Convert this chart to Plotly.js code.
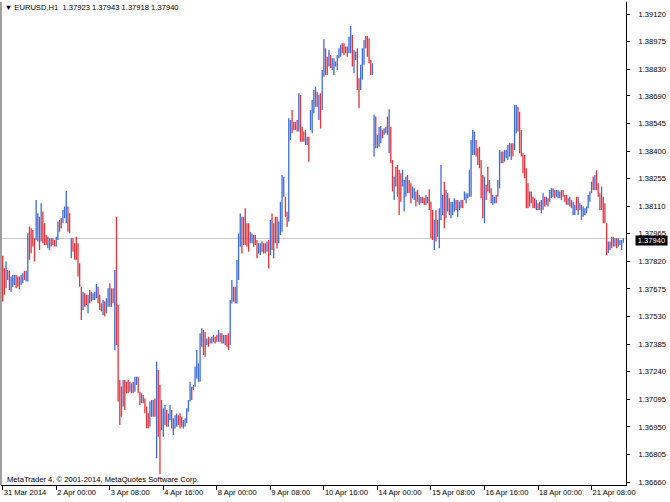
<!DOCTYPE html>
<html>
<head>
<meta charset="utf-8">
<script src="https://cdn.plot.ly/plotly-3.0.1.min.js"></script>
<style>
html,body{margin:0;padding:0;background:#fff;}
#chart{width:670px;height:502px;}
</style>
</head>
<body>
<div id="chart"></div>
<script>
// EURUSD H1 bars, first bar 31 Mar 2014, last bar 22 Apr 2014
const open = [
1.37830,1.37770,1.37690,1.37770,1.37760,1.37670,1.37700,1.37720,1.37740,1.37730,
1.37720,1.37700,1.37710,1.37765,1.37720,1.37730,1.37980,1.37900,1.37970,1.37930,
1.37940,1.37950,1.38040,1.37940,1.38070,1.38000,1.37950,1.37900,1.37890,1.37935,
1.37930,1.37925,1.37905,1.37940,1.38030,1.38040,1.38025,1.38050,1.38030,1.38100,
1.38060,1.37850,1.37935,1.37900,1.37940,1.37900,1.37800,1.37680,1.37575,1.37645,
1.37635,1.37560,1.37660,1.37655,1.37620,1.37625,1.37635,1.37680,1.37635,1.37595,
1.37545,1.37600,1.37550,1.37590,1.37690,1.37595,1.37670,1.37600,1.37760,1.37400,
1.37110,1.37150,1.37070,1.37180,1.37180,1.37190,1.37140,1.37135,1.37175,1.37140,
1.37175,1.37205,1.37130,1.37120,1.37080,1.37095,1.37050,1.37015,1.36960,1.37020,
1.37030,1.37090,1.37010,1.37240,1.37150,1.36950,1.36910,1.36970,1.37030,1.36960,
1.36995,1.37030,1.36915,1.36950,1.36960,1.37005,1.37010,1.36995,1.36950,1.36955,
1.36980,1.37040,1.37090,1.37155,1.37148,1.37165,1.37215,1.37200,1.37270,1.37380,
1.37450,1.37440,1.37385,1.37420,1.37390,1.37395,1.37400,1.37420,1.37425,1.37405,
1.37438,1.37395,1.37428,1.37390,1.37425,1.37430,1.37390,1.37610,1.37680,1.37675,
1.37610,1.37800,1.37940,1.38050,1.37910,1.38040,1.38010,1.38000,1.37920,1.37925,
1.37955,1.37950,1.37925,1.37865,1.37860,1.37915,1.37905,1.37900,1.37875,1.37925,
1.37860,1.38060,1.37850,1.38045,1.38040,1.37920,1.37970,1.38110,1.38170,1.38150,
1.38075,1.38035,1.38470,1.38605,1.38550,1.38515,1.38555,1.38510,1.38685,1.38520,
1.38495,1.38440,1.38440,1.38470,1.38515,1.38500,1.38610,1.38640,1.38705,1.38570,
1.38695,1.38630,1.38800,1.38930,1.38890,1.38850,1.38900,1.38830,1.38810,1.38865,
1.38835,1.38892,1.38900,1.38960,1.38955,1.38918,1.38940,1.38920,1.38990,1.39000,
1.38820,1.38885,1.38930,1.38770,1.38730,1.38790,1.38870,1.38998,1.38995,1.38985,
1.38870,1.38810,1.38380,1.38570,1.38420,1.38430,1.38450,1.38505,1.38488,1.38496,
1.38570,1.38490,1.38520,1.38345,1.38160,1.38300,1.38315,1.38290,1.38275,1.38220,
1.38095,1.38170,1.38265,1.38240,1.38225,1.38155,1.38148,1.38180,1.38190,1.38120,
1.38128,1.38155,1.38148,1.38120,1.38155,1.38190,1.38125,1.38080,1.37890,1.38080,
1.37955,1.37900,1.38090,1.38070,1.38230,1.38050,1.38170,1.38145,1.38055,1.38070,
1.38090,1.38138,1.38060,1.38095,1.38102,1.38138,1.38146,1.38130,1.38155,1.38165,
1.38280,1.38390,1.38390,1.38450,1.38405,1.38365,1.38345,1.38265,1.38030,1.38215,
1.38310,1.38185,1.38198,1.38120,1.38128,1.38162,1.38165,1.38240,1.38340,1.38392,
1.38348,1.38365,1.38360,1.38435,1.38360,1.38435,1.38410,1.38500,1.38625,1.38600,
1.38505,1.38380,1.38370,1.38300,1.38222,1.38112,1.38180,1.38155,1.38148,1.38095,
1.38122,1.38130,1.38078,1.38095,1.38155,1.38120,1.38148,1.38138,1.38155,1.38162,
1.38190,1.38162,1.38155,1.38183,1.38146,1.38190,1.38165,1.38162,1.38120,1.38155,
1.38138,1.38068,1.38068,1.38155,1.38070,1.38120,1.38042,1.38060,1.38080,1.38076,
1.38102,1.38138,1.38182,1.38260,1.38200,1.38290,1.38222,1.38170,1.38095,1.38155,
1.38118,1.38015,1.37866,1.37920,1.37892,1.37945,1.37902,1.37936,1.37900,1.37910,
1.37885,1.37923];
const high = [
1.37849,1.37784,1.37819,1.37775,1.37771,1.37740,1.37749,1.37749,1.37749,1.37740,
1.37740,1.37749,1.37757,1.37771,1.37771,1.37968,1.38003,1.37994,1.37985,1.37941,
1.38143,1.38073,1.38055,1.38125,1.38082,1.38020,1.37959,1.37950,1.37941,1.37941,
1.37941,1.37933,1.37950,1.38029,1.38038,1.38047,1.38090,1.38108,1.38190,1.38108,
1.38073,1.37941,1.37941,1.37915,1.37950,1.37915,1.37810,1.37687,1.37661,1.37652,
1.37644,1.37644,1.37670,1.37661,1.37652,1.37661,1.37701,1.37687,1.37644,1.37600,
1.37617,1.37609,1.37626,1.37679,1.37705,1.37679,1.37679,1.37775,1.38055,1.37591,
1.37197,1.37162,1.37197,1.37197,1.37188,1.37197,1.37188,1.37179,1.37188,1.37214,
1.37214,1.37214,1.37135,1.37127,1.37118,1.37100,1.37057,1.37022,1.37083,1.37092,
1.37092,1.37100,1.37293,1.37249,1.37170,1.37091,1.37048,1.37065,1.37039,1.37021,
1.37065,1.37039,1.36995,1.37012,1.37021,1.37012,1.37021,1.37004,1.36986,1.36995,
1.37048,1.37091,1.37188,1.37161,1.37170,1.37267,1.37354,1.37284,1.37442,1.37468,
1.37459,1.37450,1.37415,1.37424,1.37415,1.37424,1.37433,1.37424,1.37433,1.37459,
1.37442,1.37442,1.37433,1.37433,1.37433,1.37442,1.37617,1.37722,1.37687,1.37687,
1.37827,1.37967,1.38072,1.38055,1.38055,1.38099,1.38020,1.38020,1.37976,1.37967,
1.37959,1.37959,1.37932,1.37915,1.37915,1.37924,1.37915,1.37915,1.37924,1.37932,
1.38037,1.38072,1.38020,1.38055,1.38055,1.38029,1.38134,1.38274,1.38265,1.38160,
1.38081,1.38572,1.38563,1.38616,1.38554,1.38554,1.38563,1.38703,1.38694,1.38528,
1.38502,1.38510,1.38475,1.38475,1.38616,1.38668,1.38721,1.38738,1.38712,1.38694,
1.38703,1.38826,1.38987,1.38940,1.38896,1.38931,1.38905,1.38888,1.38888,1.38870,
1.38905,1.38940,1.38958,1.38966,1.38966,1.38949,1.38949,1.39001,1.39057,1.39010,
1.38931,1.38923,1.38940,1.38782,1.38853,1.38940,1.38984,1.39005,1.39005,1.38993,
1.38879,1.38861,1.38590,1.38581,1.38485,1.38528,1.38532,1.38511,1.38520,1.38528,
1.38581,1.38620,1.38528,1.38353,1.38266,1.38318,1.38327,1.38301,1.38283,1.38301,
1.38248,1.38266,1.38274,1.38248,1.38231,1.38213,1.38204,1.38187,1.38196,1.38169,
1.38160,1.38160,1.38152,1.38169,1.38160,1.38199,1.38134,1.38090,1.38038,1.38090,
1.38038,1.38099,1.38327,1.38169,1.38239,1.38196,1.38178,1.38152,1.38134,1.38134,
1.38152,1.38143,1.38143,1.38134,1.38143,1.38143,1.38187,1.38178,1.38178,1.38301,
1.38458,1.38511,1.38502,1.38458,1.38414,1.38423,1.38353,1.38274,1.38266,1.38222,
1.38318,1.38248,1.38204,1.38169,1.38160,1.38169,1.38248,1.38406,1.38397,1.38397,
1.38406,1.38406,1.38432,1.38441,1.38441,1.38441,1.38642,1.38642,1.38633,1.38607,
1.38511,1.38388,1.38379,1.38309,1.38230,1.38187,1.38187,1.38160,1.38152,1.38143,
1.38125,1.38134,1.38143,1.38178,1.38160,1.38160,1.38152,1.38195,1.38204,1.38204,
1.38195,1.38195,1.38195,1.38187,1.38195,1.38195,1.38169,1.38169,1.38152,1.38160,
1.38143,1.38134,1.38117,1.38160,1.38160,1.38125,1.38117,1.38108,1.38099,1.38108,
1.38169,1.38187,1.38239,1.38266,1.38274,1.38297,1.38230,1.38178,1.38213,1.38160,
1.38125,1.38020,1.37924,1.37924,1.37950,1.37950,1.37941,1.37941,1.37941,1.37933,
1.37933,1.37943];
const low = [
1.37609,1.37644,1.37679,1.37722,1.37670,1.37661,1.37687,1.37696,1.37679,1.37687,
1.37673,1.37696,1.37705,1.37722,1.37714,1.37714,1.37828,1.37863,1.37898,1.37819,
1.37933,1.37924,1.37880,1.37924,1.37915,1.37906,1.37906,1.37889,1.37880,1.37898,
1.37906,1.37898,1.37898,1.37933,1.37976,1.37994,1.38020,1.38047,1.38020,1.37976,
1.37968,1.37836,1.37871,1.37828,1.37828,1.37740,1.37687,1.37512,1.37565,1.37582,
1.37591,1.37547,1.37600,1.37609,1.37617,1.37617,1.37626,1.37600,1.37565,1.37556,
1.37538,1.37530,1.37547,1.37582,1.37582,1.37582,1.37600,1.37354,1.37381,1.37083,
1.36960,1.37004,1.37057,1.37039,1.37127,1.37127,1.37135,1.37127,1.37127,1.37135,
1.37170,1.37127,1.37065,1.37074,1.37074,1.37022,1.36943,1.36943,1.36952,1.37004,
1.37004,1.37004,1.36785,1.36899,1.36703,1.36934,1.36899,1.36960,1.36951,1.36951,
1.36986,1.36942,1.36907,1.36942,1.36951,1.36960,1.36942,1.36951,1.36942,1.36951,
1.36969,1.37030,1.37083,1.37091,1.37144,1.37161,1.37205,1.37188,1.37188,1.37372,
1.37328,1.37319,1.37380,1.37372,1.37389,1.37389,1.37398,1.37389,1.37398,1.37398,
1.37398,1.37389,1.37389,1.37380,1.37372,1.37354,1.37380,1.37599,1.37608,1.37599,
1.37599,1.37722,1.37897,1.37862,1.37906,1.37906,1.37897,1.37871,1.37915,1.37915,
1.37897,1.37906,1.37836,1.37862,1.37853,1.37871,1.37862,1.37862,1.37871,1.37783,
1.37853,1.37880,1.37836,1.37915,1.37888,1.37915,1.37959,1.37976,1.38160,1.38055,
1.38002,1.38029,1.38458,1.38493,1.38510,1.38510,1.38502,1.38502,1.38449,1.38449,
1.38449,1.38432,1.38432,1.38344,1.38510,1.38493,1.38598,1.38633,1.38633,1.38563,
1.38519,1.38616,1.38791,1.38800,1.38800,1.38844,1.38835,1.38826,1.38800,1.38844,
1.38826,1.38888,1.38896,1.38914,1.38905,1.38914,1.38896,1.38914,1.38914,1.38844,
1.38809,1.38879,1.38721,1.38625,1.38721,1.38774,1.38853,1.38940,1.38896,1.38861,
1.38800,1.38800,1.38371,1.38415,1.38415,1.38423,1.38441,1.38467,1.38485,1.38493,
1.38485,1.38388,1.38336,1.38187,1.38143,1.38213,1.38160,1.38064,1.38134,1.38213,
1.38082,1.38160,1.38178,1.38178,1.38125,1.38152,1.38143,1.38108,1.38134,1.38117,
1.38125,1.38125,1.38117,1.38117,1.38125,1.38090,1.37941,1.37933,1.37880,1.37924,
1.37950,1.37889,1.38038,1.38064,1.37994,1.38047,1.38082,1.38064,1.38047,1.38064,
1.38082,1.38090,1.38055,1.38090,1.38099,1.38099,1.38143,1.38125,1.38152,1.38160,
1.38160,1.38379,1.38379,1.38371,1.38327,1.38309,1.38152,1.38047,1.38020,1.38143,
1.38187,1.38178,1.38125,1.38117,1.38125,1.38125,1.38160,1.38204,1.38336,1.38336,
1.38344,1.38362,1.38353,1.38371,1.38353,1.38371,1.38406,1.38493,1.38502,1.38388,
1.38371,1.38283,1.38257,1.38099,1.38099,1.38108,1.38125,1.38099,1.38099,1.38090,
1.38090,1.38090,1.38073,1.38090,1.38108,1.38117,1.38108,1.38134,1.38152,1.38160,
1.38152,1.38160,1.38152,1.38152,1.38143,1.38160,1.38134,1.38117,1.38117,1.38108,
1.38099,1.38064,1.38064,1.38090,1.38064,1.38090,1.38038,1.38055,1.38064,1.38073,
1.38099,1.38134,1.38178,1.38195,1.38195,1.38195,1.38160,1.38090,1.38090,1.38020,
1.38020,1.37854,1.37863,1.37880,1.37889,1.37898,1.37898,1.37889,1.37898,1.37906,
1.37880,1.37918];
const close = [
1.37640,1.37660,1.37800,1.37730,1.37680,1.37730,1.37740,1.37725,1.37690,1.37700,
1.37680,1.37740,1.37750,1.37730,1.37765,1.37950,1.37850,1.37880,1.37910,1.37830,
1.38100,1.38060,1.37900,1.38110,1.37930,1.37920,1.37915,1.37940,1.37930,1.37905,
1.37910,1.37905,1.37945,1.38020,1.37985,1.38000,1.38085,1.38100,1.38150,1.37990,
1.37975,1.37930,1.37880,1.37840,1.37835,1.37750,1.37700,1.37530,1.37650,1.37590,
1.37600,1.37635,1.37610,1.37615,1.37648,1.37655,1.37690,1.37610,1.37575,1.37560,
1.37610,1.37540,1.37620,1.37670,1.37590,1.37670,1.37610,1.37760,1.37400,1.37100,
1.36990,1.37020,1.37180,1.37060,1.37135,1.37140,1.37180,1.37170,1.37135,1.37205,
1.37210,1.37135,1.37075,1.37080,1.37110,1.37030,1.36955,1.36950,1.37075,1.37085,
1.37088,1.37015,1.37270,1.36920,1.37010,1.37070,1.37030,1.37055,1.36960,1.37015,
1.37055,1.36950,1.36985,1.37005,1.37015,1.36965,1.36950,1.36960,1.36980,1.36990,
1.37040,1.37085,1.37180,1.37100,1.37166,1.37255,1.37340,1.37275,1.37430,1.37460,
1.37340,1.37400,1.37410,1.37380,1.37410,1.37420,1.37428,1.37395,1.37402,1.37450,
1.37405,1.37435,1.37395,1.37425,1.37380,1.37365,1.37600,1.37710,1.37615,1.37610,
1.37815,1.37950,1.38060,1.37880,1.38040,1.37920,1.37905,1.37885,1.37970,1.37960,
1.37905,1.37910,1.37850,1.37910,1.37905,1.37875,1.37870,1.37868,1.37915,1.37800,
1.38020,1.37890,1.38010,1.37925,1.37900,1.38020,1.38120,1.38260,1.38250,1.38070,
1.38010,1.38550,1.38555,1.38505,1.38515,1.38550,1.38505,1.38690,1.38460,1.38455,
1.38455,1.38505,1.38470,1.38350,1.38605,1.38660,1.38710,1.38730,1.38640,1.38685,
1.38530,1.38810,1.38970,1.38810,1.38810,1.38920,1.38845,1.38880,1.38880,1.38848,
1.38895,1.38935,1.38950,1.38920,1.38910,1.38945,1.38900,1.38990,1.39040,1.38860,
1.38920,1.38918,1.38740,1.38640,1.38840,1.38930,1.38975,1.38950,1.38905,1.38870,
1.38810,1.38855,1.38570,1.38430,1.38475,1.38520,1.38525,1.38472,1.38515,1.38524,
1.38495,1.38600,1.38350,1.38200,1.38250,1.38220,1.38175,1.38080,1.38150,1.38290,
1.38235,1.38255,1.38190,1.38185,1.38135,1.38208,1.38198,1.38115,1.38140,1.38165,
1.38155,1.38130,1.38120,1.38165,1.38130,1.38100,1.37960,1.37945,1.38025,1.37935,
1.38030,1.38085,1.38310,1.38160,1.38010,1.38185,1.38090,1.38070,1.38125,1.38128,
1.38145,1.38095,1.38138,1.38130,1.38140,1.38104,1.38182,1.38172,1.38175,1.38290,
1.38440,1.38500,1.38495,1.38380,1.38335,1.38355,1.38170,1.38060,1.38250,1.38150,
1.38195,1.38240,1.38130,1.38162,1.38155,1.38130,1.38240,1.38395,1.38390,1.38340,
1.38400,1.38402,1.38425,1.38378,1.38435,1.38380,1.38630,1.38630,1.38510,1.38400,
1.38380,1.38290,1.38265,1.38110,1.38105,1.38180,1.38130,1.38105,1.38105,1.38138,
1.38094,1.38095,1.38138,1.38170,1.38112,1.38155,1.38112,1.38190,1.38200,1.38200,
1.38156,1.38192,1.38190,1.38156,1.38190,1.38164,1.38138,1.38122,1.38148,1.38112,
1.38104,1.38128,1.38112,1.38095,1.38150,1.38095,1.38110,1.38104,1.38081,1.38104,
1.38165,1.38182,1.38232,1.38200,1.38268,1.38200,1.38165,1.38095,1.38205,1.38030,
1.38025,1.37865,1.37918,1.37885,1.37945,1.37902,1.37936,1.37894,1.37935,1.37928,
1.37925,1.37940];

// time axis labels (bar number of each label, counted from the first bar)
const timeTickBars = [0, 32, 64, 96, 128, 160, 192, 224, 256, 288, 320, 352];
const timeTickLabels = ['31 Mar 2014', '2 Apr 00:00', '3 Apr 08:00', '4 Apr 16:00', '8 Apr 00:00',
  '9 Apr 08:00', '10 Apr 16:00', '14 Apr 00:00', '15 Apr 08:00', '16 Apr 16:00', '18 Apr 00:00', '21 Apr 08:00'];
// price scale labels
const priceTicks = [1.39120, 1.38975, 1.38830, 1.38690, 1.38545, 1.38400, 1.38255, 1.38110, 1.37965,
  1.37820, 1.37675, 1.37530, 1.37385, 1.37240, 1.37095, 1.36950, 1.36805, 1.36660];
const lastPrice = 1.37940;
const symbolTitle = '\u25BC EURUSD,H1\u00a0\u00a01.37923 1.37943 1.37918 1.37940';
const copyright = 'MetaTrader 4, \u00a9 2001-2014, MetaQuotes Software Corp.';

const barIndex = close.map((_, i) => i);
const FONT = 'Liberation Sans, Arial, sans-serif';

const trace = {
  type: 'ohlc',
  x: barIndex,
  open: open, high: high, low: low, close: close,
  increasing: {line: {color: '#3d6cd8', width: 1.3}},
  decreasing: {line: {color: '#e6323a', width: 1.3}},
  tickwidth: 0.3,
  hoverinfo: 'skip'
};

const layout = {
  width: 670, height: 502,
  margin: {l: 1, r: 44, t: 2, b: 17, pad: 0},
  paper_bgcolor: '#ffffff', plot_bgcolor: '#ffffff',
  showlegend: false,
  title: {text: symbolTitle, x: 4 / 670, xanchor: 'left', xref: 'paper',
          y: 1 - 7 / 502, yanchor: 'middle', font: {family: FONT, size: 7.6, color: '#000'}},
  xaxis: {
    range: [-1.02, 372.6], rangeslider: {visible: false},
    showgrid: false, zeroline: false,
    showline: true, linecolor: '#000', linewidth: 1,
    ticks: 'outside', ticklen: 4, tickcolor: '#000', tickwidth: 1,
    tickmode: 'array', tickvals: timeTickBars, ticktext: timeTickLabels,
    ticklabelposition: 'outside right',
    tickfont: {family: FONT, size: 7.6, color: '#000'},
    fixedrange: true
  },
  yaxis: {
    side: 'right',
    range: [1.366448, 1.391832],
    showgrid: false, zeroline: false,
    showline: true, linecolor: '#000', linewidth: 1,
    ticks: 'outside', ticklen: 3, tickcolor: '#000', tickwidth: 1,
    tickmode: 'array', tickvals: priceTicks, ticktext: priceTicks.map(v => v.toFixed(5)),
    ticklabelstandoff: 7,
    tickfont: {family: FONT, size: 7.6, color: '#000'},
    fixedrange: true
  },
  shapes: [
    {type: 'line', xref: 'paper', yref: 'y', x0: 0, x1: 1, y0: lastPrice, y1: lastPrice,
     line: {color: '#c8c8c8', width: 1}, layer: 'below'},
    {type: 'line', xref: 'paper', yref: 'paper', x0: 0, x1: 0, y0: 0, y1: 1,
     line: {color: '#808080', width: 1.5}}
  ],
  annotations: [
    {xref: 'paper', yref: 'y', x: 1, y: lastPrice, xanchor: 'left', yanchor: 'middle',
     xshift: 9, yshift: -2, width: 31, height: 9, borderpad: 0,
     text: lastPrice.toFixed(5), showarrow: false,
     bgcolor: '#000000', font: {family: FONT, size: 7.6, color: '#ffffff'}},
    {xref: 'paper', yref: 'paper', x: 0, y: 0, xanchor: 'left', yanchor: 'bottom',
     xshift: 4, yshift: -1, text: copyright, showarrow: false,
     font: {family: FONT, size: 7.6, color: '#000'}}
  ]
};

Plotly.newPlot('chart', [trace], layout, {displayModeBar: false, staticPlot: true});
</script>
</body>
</html>
